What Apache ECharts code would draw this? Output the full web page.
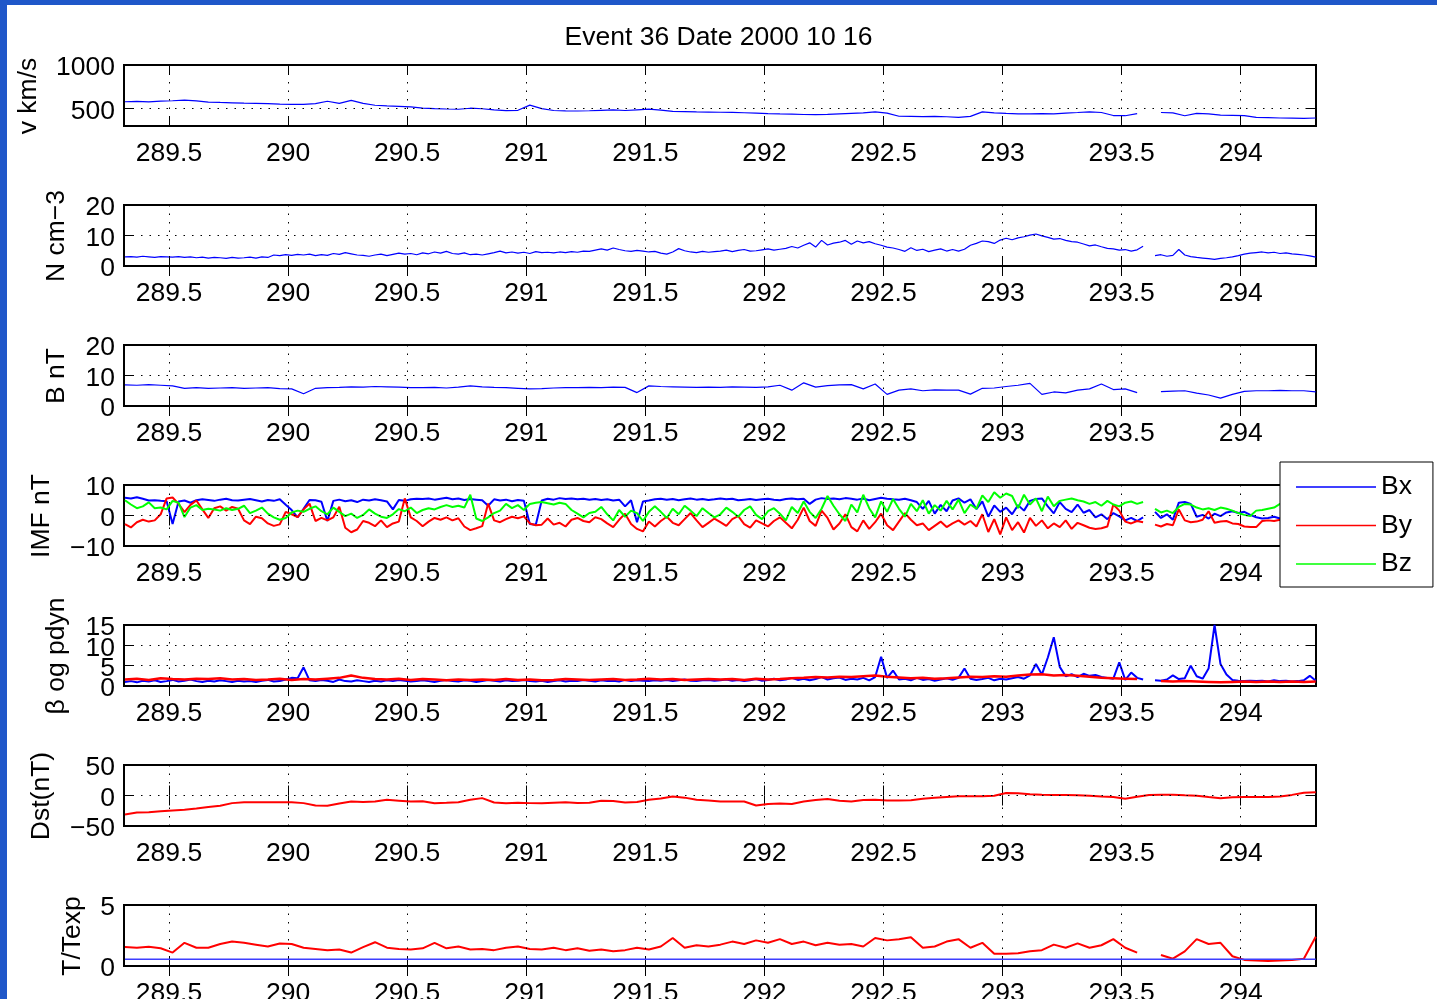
<!DOCTYPE html>
<html>
<head>
<meta charset="utf-8">
<script src="https://cdn.jsdelivr.net/npm/echarts@6/dist/echarts.min.js"></script>
<style>
  html, body { margin: 0; padding: 0; background: #fff; overflow: hidden; }
  #chart { position: absolute; left: 0; top: 0; width: 1437px; height: 999px; }
  .edge-top { position: absolute; left: 0; top: 0; width: 1437px; height: 5px; background: #1f57c9; }
  .edge-left { position: absolute; left: 0; top: 0; width: 7px; height: 999px; background: #1f57c9; }
</style>
</head>
<body>
<div id="chart"></div>
<div class="edge-top"></div>
<div class="edge-left"></div>
<script>
// ---- time axis (day of year 2000) ----
const dayMin = 289.311;
const dayMax = 294.316;
const dayTicks = [289.5, 290, 290.5, 291, 291.5, 292, 292.5, 293, 293.5, 294];

// sampling of the stored series: coarse = 0.05 day, fine = 0.025 day
const coarseStart = 289.315, coarseStep = 0.05;
const fineStart = 289.315, fineStep = 0.025;

// ---- y tick labels per panel ----
const speedTicks = [500, 1000];
const densityTicks = [0, 10, 20];
const fieldTicks = [0, 10, 20];
const imfTicks = [-10, 0, 10];
const betaTicks = [0, 5, 10, 15];
const dstTicks = [-50, 0, 50];
const ratioTicks = [0, 5];

// ---- solar wind speed, km/s (coarse) ----
const speed = [
  578, 582, 576, 585, 590, 596, 588, 575, 570, 566,
  562, 560, 556, 552, 549, 548, 556, 584, 560, 594,
  560, 538, 530, 526, 520, 506, 500, 495, 492, 504,
  498, 485, 476, 480, 540, 500, 478, 474, 472, 475,
  480, 484, 478, 486, 494, 482, 468, 466, 462, 460,
  458, 456, 452, 448, 442, 438, 436, 432, 430, 434,
  440, 445, 450, 462, 448, 412, 410, 408, 410, 406,
  400, 410, 462, 450, 444, 440, 438, 442, 440, 448,
  455, 463, 455, 420, 418, 442, null, 455, 450, 418,
  445, 440, 425, 422, 418, 398, 396, 392, 390, 388, 392
];

// ---- proton density, cm^-3 (fine) ----
const density = [
  3.0, 3.1, 2.9, 3.2, 3.0, 2.8, 3.1, 3.0, 2.9, 3.1,
  2.8, 3.0, 2.7, 2.9, 2.6, 2.8, 2.7, 2.5, 2.8, 2.6,
  2.7, 2.9, 2.6, 3.0, 2.8, 3.6, 3.4, 3.7, 3.5, 3.8,
  3.6, 3.9, 3.4, 3.7, 3.5, 4.1, 3.8, 4.4, 4.0, 3.6,
  3.5, 3.2, 3.6, 3.9, 3.4, 3.8, 4.2, 3.9, 4.1, 3.7,
  4.3, 4.0, 4.6, 4.2, 4.8, 4.1, 3.9, 4.3, 3.7, 3.9,
  3.6, 4.0, 4.4, 4.9, 4.3, 4.6, 4.2, 4.5, 4.1, 4.7,
  4.4, 4.5, 4.3, 4.6, 4.4, 4.7, 4.5, 4.9, 4.8, 5.2,
  5.6, 5.2, 5.9, 5.4, 5.0, 4.8, 5.1, 4.9, 4.6, 4.8,
  4.2, 3.9, 4.6, 5.7, 5.0, 4.6, 4.4, 4.8, 4.5, 4.7,
  4.9, 5.2, 4.7, 5.1, 5.4, 4.9, 5.0, 5.3, 5.6, 5.2,
  5.5, 5.8, 6.4, 5.9, 6.8, 7.6, 6.2, 8.4, 6.9, 7.5,
  7.8, 8.4, 7.1, 8.2, 7.6, 8.0, 7.3, 6.8, 6.2, 5.9,
  5.4, 4.8, 6.0, 5.1, 5.5, 4.7, 5.2, 5.6, 4.9, 5.4,
  4.9, 5.5, 6.8, 7.4, 8.2, 8.0, 7.4, 8.5, 9.1, 8.6,
  9.2, 9.6, 10.1, 10.5, 9.9, 9.4, 8.8, 9.0, 8.4, 8.0,
  7.8, 7.2, 6.6, 6.9, 6.3, 5.8, 5.6, 5.2, 5.4, 4.9,
  5.3, 6.5, null, 3.4, 3.7, 3.2, 3.5, 5.4, 3.6, 3.1,
  2.8, 2.6, 2.4, 2.2, 2.5, 2.7, 3.0, 3.4, 3.9, 4.2,
  4.4, 4.6, 4.3, 4.5, 4.1, 4.3, 4.0, 3.8, 3.6, 3.3, 2.9
];

// ---- field magnitude, nT (coarse) ----
const fieldMag = [
  6.9, 6.8, 7.0, 6.8, 6.6, 5.8, 6.0, 5.8, 5.9, 6.0,
  5.8, 5.9, 6.0, 5.7, 5.6, 4.0, 5.8, 6.0, 6.1, 6.3,
  6.2, 6.4, 6.3, 6.2, 6.0, 6.0, 6.1, 5.9, 6.2, 6.6,
  6.3, 6.1, 6.0, 5.8, 5.6, 5.7, 5.9, 6.0, 6.0, 6.1,
  6.0, 6.2, 6.1, 4.4, 6.6, 6.4, 6.3, 6.2, 6.1, 6.2,
  6.1, 6.3, 6.2, 6.1, 6.3, 6.8, 5.2, 7.6, 6.2, 6.7,
  6.9, 7.0, 5.6, 7.2, 3.8, 5.2, 5.6, 5.0, 5.3, 5.2,
  5.2, 3.9, 5.8, 5.9, 6.4, 6.8, 7.4, 3.8, 4.6, 4.3,
  5.2, 5.6, 7.2, 5.4, 5.6, 4.4, null, 4.7, 4.9, 5.0,
  4.2, 3.6, 2.6, 3.8, 4.8, 5.0, 5.0, 5.1, 5.0, 5.0, 4.6
];

// ---- IMF components, nT (fine) ----
const bx = [
  5.8, 5.6, 6.0, 5.5, 4.9, 5.0, 4.8, 4.7, -2.8, 4.6,
  4.9, 4.2, 5.0, 5.3, 5.1, 4.8, 5.2, 5.5, 5.0, 4.9,
  5.2, 5.4, 5.0, 4.6, 5.1, 4.8, 5.3, 3.5, 1.8, -0.6,
  2.2, 5.1, 5.0, 4.5, -1.8, 4.8, 5.2, 4.7, 5.0, 4.4,
  5.2, 4.9, 5.3, 5.0, 4.6, 2.0, 5.1, 4.8, 5.3, 5.5,
  5.4, 5.6, 5.2, 5.5, 5.8, 5.3, 5.6, 5.1, 5.4, 5.2,
  5.0, 3.2, 5.3, 4.9, 5.2, 4.7, 5.1, 4.8, -2.8, -3.0,
  4.9, 5.5, 5.2, 5.7, 5.4, 5.6, 5.3, 5.5, 5.2, 5.4,
  5.1, 5.3, 4.9, 5.2, 3.0, 5.0, -2.2, 4.6, 4.9, 5.3,
  5.5, 5.2, 5.4, 5.0, 5.3, 5.6, 5.2, 5.4, 5.1, 5.3,
  5.6, 5.3, 5.5, 5.0, 5.2, 5.4, 5.1, 5.3, 5.5, 5.2,
  5.0, 5.4, 5.6, 5.3, 5.5, 3.8, 5.2, 5.7, 5.4, 5.6,
  5.3, 5.7, 5.5, 5.2, 5.6, 5.0, 5.4, 5.8, 5.5, 5.3,
  5.2, 5.5, 5.0, 4.4, 2.2, 4.8, 0.6, 3.5, 1.4, 4.9,
  5.6, 4.2, 5.3, 2.1, 4.6, -0.4, 3.3, 1.2, 2.6, 0.4,
  3.4, 1.6, 4.8, 5.4, 5.6, 3.0, 0.7, 4.4, 2.2, 1.1,
  3.6, 0.9, 1.8, -0.6, 0.4, -1.2, 0.8, -0.3, -1.6, -0.8,
  -1.8, -0.6, null, 1.2, -0.8, 0.4, -1.4, 4.2, 4.4, 3.8,
  -0.4, 0.2, -1.0, 0.6, -0.2, 1.0, 1.4, 0.8, 1.2, 0.2,
  -0.6, -1.0, -0.8, -0.4, -1.0, -0.6, -1.2, -0.8, -1.0, -0.6, -0.9
];
const by = [
  -2.8, -3.9, -2.2, -1.4, -2.0, -1.6, 0.4, 5.6, 5.9, 3.8,
  1.1, 3.5, 4.9, 2.0, -0.8, 2.4, 3.0, 1.6, 2.8, 2.2,
  -1.6, -2.8, -0.4, -0.9, -2.6, -3.4, -2.9, 1.2, 0.4, -0.5,
  2.0, 3.9, -1.8, -0.8, -1.6, -0.6, 2.9, -4.0, -5.5, -4.6,
  -1.8, -2.4, -3.5, -1.6, -3.8, -2.6, -2.0, 5.6, -0.6, -1.8,
  -3.5, -2.0, -0.8, -1.4, -0.6, -1.6, -0.9, -3.6, -4.8, -4.2,
  -3.5, 3.9, -1.6, -2.2, -1.2, -0.4, -0.9, -0.3, -2.6, -3.2,
  -3.0, -1.0, -3.0, -2.4, -3.6, -1.4, -0.8, -1.8, -2.2, -0.6,
  -1.2, -2.6, -3.8, -1.4, 0.6, -2.8, -4.4, -5.2, -2.0, -3.6,
  -1.8, -0.4, -2.4, -3.2, -1.2, 0.8, -1.6, -3.8, -2.4, -1.0,
  -2.2, -3.4, -1.2, -0.2, -2.8, -4.0, -1.6, -2.6, -3.6, -1.8,
  -0.6, -2.4, -4.2, -1.4, 2.6, -1.8, -3.4, 1.6, -0.8, -4.6,
  -2.6, 0.4, -3.8, -5.2, -1.6, -4.4, -2.2, 0.6, -3.2, -4.8,
  -2.0, 0.8, -1.4, -3.2, -2.6, -4.8, -3.4, -2.0, -3.8, -2.6,
  -1.6, -3.0, -1.8, -3.6, 0.4, -5.4, -1.2, -6.2, -0.6, -4.8,
  -2.2, -5.6, -0.8, -3.4, -1.6, -4.2, -2.6, -3.8, -1.6, -4.4,
  -2.4, -3.2, -4.0, -4.4, -4.2, -3.6, 3.6, 1.6, -2.0, -2.6,
  -1.8, -2.2, null, -3.0, -3.6, -2.8, -3.2, 2.0, -1.6, -2.2,
  -2.0, -1.4, 1.4, -2.4, -2.0, -1.8, -2.6, -2.8, -3.6, -3.8,
  -3.8, -1.8, -1.6, -1.8, -1.4, -1.7, -2.0, -1.6, -1.8, -2.2, -2.0
];
const bz = [
  5.0, 3.6, 2.4, 3.0, 4.3, 2.4, 2.6, 2.0, 4.8, 4.2,
  -0.5, 2.6, 3.4, 1.8, 2.2, 2.0, 1.6, 2.4, 1.8, 2.2,
  3.2, 0.8, 1.6, 2.6, 0.6, -0.6, -1.4, -0.8, 1.0, 1.6,
  1.2, 2.2, 3.0, 1.4, 0.4, 2.6, 1.2, -0.2, 0.6, -0.8,
  0.2, 2.0, 0.6, -0.4, -0.8, 0.4, 2.1, 1.4, 2.6, 0.8,
  1.8, 2.4, 2.0, 2.8, 3.4, 2.8, 3.2, 2.6, 6.8, -1.0,
  -1.8, -0.6, 0.8, 1.6, 3.8, 2.4, 3.4, 1.8, 3.8, 4.2,
  4.4, 4.0, 3.6, 4.2, 3.8, 1.8, 0.6, -0.6, 0.8, 1.2,
  2.8, 0.4, -1.6, 1.8, -0.4, 1.6, 0.8, -1.8, 1.2, 3.0,
  1.2, -0.8, 2.2, 0.4, 3.2, 1.6, -0.2, 2.4, 0.8, -0.6,
  0.4, 2.6, 1.2, -0.4, 1.8, 3.0, 0.2, -1.2, 1.4, 2.4,
  0.6, -1.6, 2.8, 0.8, 4.6, 1.2, -0.8, 2.2, 6.4, 3.2,
  0.4, -1.8, 3.6, 1.0, 6.8, 2.4, -0.6, 4.6, 1.2, 5.4,
  2.2, -0.4, 3.8, 1.4, 5.0, 0.6, 3.4, 1.6, 4.8, 2.0,
  5.2, 0.8, 3.6, 2.2, 6.6, 4.4, 7.6, 5.8, 7.2, 6.4,
  2.4, 6.8, 3.6, 5.6, 1.4, 6.2, 3.0, 4.8, 5.2, 5.6,
  5.0, 4.6, 3.8, 4.4, 3.2, 4.8, 3.6, 3.0, 4.2, 4.6,
  3.8, 4.4, null, 2.2, 1.0, 1.6, 0.8, 2.8, 3.8, 3.6,
  2.6, 2.0, 2.4, 1.8, 2.6, 2.2, 1.6, 0.8, 0.2, -0.2,
  1.6, 1.8, 2.2, 2.6, 3.8, 3.4, 3.0, 3.2, 2.8, 3.0, 2.6
];

// ---- plasma beta (fine) and dynamic pressure (coarse) ----
const beta = [
  1.0, 1.2, 0.9, 1.3, 1.1, 1.4, 1.0, 1.2, 1.5, 1.1,
  1.3, 1.6, 1.2, 1.0, 1.3, 1.1, 1.4, 1.2, 1.0, 1.3,
  1.1, 1.2, 1.0, 1.3, 1.5, 1.1, 1.2, 1.6, 2.0, 1.9,
  4.6, 1.4, 1.2, 1.5, 1.3, 1.0, 1.6, 1.2, 1.1, 1.4,
  1.2, 1.0, 1.3, 1.1, 1.4, 1.2, 1.5, 1.3, 1.1, 1.2,
  1.4, 1.2, 1.0, 1.3, 1.5, 1.2, 1.1, 1.4, 1.3, 1.0,
  1.2, 1.5, 1.3, 1.1, 1.4, 1.2, 1.3, 1.5, 1.2, 1.1,
  1.3, 1.0, 1.2, 1.4, 1.1, 1.3, 1.2, 1.5, 1.3, 1.1,
  1.4, 1.2, 1.3, 1.1, 1.5, 1.2, 1.4, 1.3, 1.2, 1.4,
  1.3, 1.5, 1.2, 1.4, 1.6, 1.3, 1.2, 1.4, 1.5, 1.3,
  1.4, 1.6, 1.3, 1.5, 1.2, 1.4, 1.7, 1.3, 1.5, 1.8,
  1.4, 1.6, 2.0, 1.5, 1.8, 1.4, 1.7, 2.2, 1.6, 1.9,
  2.1, 1.5, 1.8, 1.6, 2.0, 1.4, 2.2, 7.2, 2.0, 3.8,
  1.6, 1.8, 1.4, 2.0, 1.5, 1.7, 1.3, 1.6, 1.9, 1.5,
  2.0, 4.3, 1.8, 1.5, 1.7, 2.0, 1.4, 1.8, 1.6, 1.9,
  2.2, 1.8, 2.6, 5.4, 2.8, 7.0, 12.0, 4.7, 2.4, 2.9,
  2.2, 3.0, 2.5, 2.7, 2.2, 2.0, 1.8, 5.8, 1.5, 3.3,
  2.0, 1.6, null, 1.4, 1.3, 1.6, 2.6, 1.7, 1.9, 5.0,
  2.4, 1.8, 4.3, 15.0, 5.4, 2.8, 1.5, 1.3, 1.2, 1.3,
  1.2, 1.3, 1.1, 1.4, 1.2, 1.3, 1.1, 1.2, 1.4, 2.5, 1.3
];
const pdyn = [
  1.6, 1.8, 1.5, 1.9, 1.7, 1.6, 1.8, 1.7, 1.9, 1.6,
  1.7, 1.5, 1.6, 1.8, 1.5, 1.7, 1.6, 1.8, 2.0, 2.6,
  2.0, 1.7, 1.6, 1.8, 1.5, 1.7, 1.6, 1.4, 1.6, 1.5,
  1.6, 1.5, 1.7, 1.5, 1.6, 1.4, 1.5, 1.7, 1.6, 1.5,
  1.6, 1.7, 1.5, 1.6, 1.8, 1.6, 1.7, 1.5, 1.6, 1.7,
  1.6, 1.7, 1.5, 1.8, 1.6, 1.7, 1.9, 2.0, 2.2, 2.1,
  2.3, 2.2, 2.4, 2.6, 2.3, 2.1, 1.9, 2.0, 1.8, 1.9,
  2.1, 2.3, 2.2, 2.4, 2.3, 2.6, 2.8, 2.9, 2.6, 2.7,
  2.5, 2.3, 2.0, 1.9, 1.8, 1.7, null, 1.2, 1.1, 1.2,
  1.1, 1.0, 0.9, 1.0, 1.1, 1.0, 1.1, 1.0, 1.1, 1.0, 1.1
];

// ---- Dst index, nT (coarse) ----
const dst = [
  -31, -28, -27.6, -26, -24.5, -23.5, -21.5, -19, -16.7, -12.5,
  -11.2, -11, -11, -11, -11, -12.5, -16.5, -16.7, -13, -9.9,
  -10.8, -10, -7.1, -8.5, -9.9, -9.3, -12.8, -12, -11, -7,
  -4.3, -11.5, -12.8, -11.7, -12.5, -12.8, -11.8, -11, -12.2, -12,
  -8.5, -9, -11.5, -10.5, -6.8, -5, -1.5, -3.5, -6.8, -8,
  -9.9, -9.9, -9.9, -16.5, -14, -13, -13.9, -10, -7.5, -5.8,
  -8.5, -9.9, -7.5, -7.1, -8.2, -8, -7.7, -5.5, -3.8, -2.3,
  -1.3, -1.3, -1.3, -0.5, 4.2, 3.5, 1.9, 1.2, 0.8, 0.8,
  0.6, -0.5, -1.8, -2.5, -5.2, -2.0, 0.8, 1.2, 1.4, 0.5,
  -0.3, -2.5, -4.5, -3, -2.5, -2.5, -2.5, -1.5, 1, 4.5, 5.5
];

// ---- temperature ratio T/Texp (coarse) and its reference level ----
const tRatio = [
  1.55, 1.5, 1.58, 1.45, 1.1, 1.9, 1.5, 1.5, 1.8, 2.0,
  1.9, 1.75, 1.6, 1.85, 1.8, 1.5, 1.4, 1.3, 1.35, 1.1,
  1.55, 1.95, 1.5, 1.4, 1.35, 1.45, 1.9, 1.45, 1.6, 1.35,
  1.4, 1.3, 1.5, 1.6, 1.4, 1.35, 1.5, 1.3, 1.45, 1.25,
  1.35, 1.2, 1.3, 1.5, 1.35, 1.6, 2.3, 1.5, 1.7, 1.6,
  1.75, 2.0, 1.8, 2.1, 1.9, 2.2, 1.8, 2.0, 1.7, 1.9,
  1.75, 1.8, 1.6, 2.3, 2.1, 2.2, 2.35, 1.5, 1.6, 2.0,
  2.2, 1.5, 1.9, 1.0, 1.0, 1.05, 1.2, 1.3, 1.75, 1.5,
  1.85, 1.5, 1.7, 2.2, 1.5, 1.1, null, 0.9, 0.6, 1.2,
  2.2, 1.8, 1.9, 0.8, 0.5, 0.45, 0.42, 0.45, 0.5, 0.6, 2.4
];
const tRatioRefDays = [289.315, 294.315];
const tRatioRef = [0.55, 0.55];

// ---------------------------------------------------------------------------
const FONT = '"Liberation Sans", Arial, Helvetica, sans-serif';
const FS = 26.5;
const BLUE = '#0000ff', RED = '#ff0000', GREEN = '#00ff00';

function onGrid(start, step, vals) {
  return vals.map((v, i) => [+(start + step * i).toFixed(4), v == null ? '-' : v]);
}
function minusFmt(v) { return v < 0 ? '\u2212' + Math.abs(v) : String(v); }

const panels = [
  { label: 'v km/s',         min: 300, max: 1000, ticks: speedTicks,   labelX: 29 },
  { label: 'N cm\u22123',    min: 0,   max: 20,   ticks: densityTicks, labelX: 57 },
  { label: 'B nT',           min: 0,   max: 20,   ticks: fieldTicks,   labelX: 57 },
  { label: 'IMF nT',         min: -10, max: 10,   ticks: imfTicks,     labelX: 42 },
  { label: '\u03b2 og pdyn', min: 0,   max: 15,   ticks: betaTicks,    labelX: 57 },
  { label: 'Dst(nT)',        min: -50, max: 50,   ticks: dstTicks,     labelX: 42 },
  { label: 'T/Texp',         min: 0,   max: 5,    ticks: ratioTicks,   labelX: 73 }
];

const plotLeft = 124, plotWidth = 1192, plotTop = 65, plotPitch = 140, plotHeight = 61;
const yLabelMargin = 9;

const grids = [], xAxes = [], yAxes = [], graphics = [];
const tickStyle = { color: '#000', width: 1 };
const labelStyle = { fontSize: FS, fontFamily: FONT, color: '#000' };

panels.forEach((p, k) => {
  const top = plotTop + plotPitch * k;
  // fixed plot boxes: the bottom row's labels may run to the page edge
  grids.push({ left: plotLeft, width: plotWidth, top: top, height: plotHeight,
    outerBoundsMode: 'none', containLabel: false,
    show: true, borderColor: '#000', borderWidth: 2, backgroundColor: '#fff' });

  const xBase = { type: 'value', gridIndex: k, min: dayMin, max: dayMax,
    axisLine: { show: false }, splitLine: { show: false } };
  xAxes.push(Object.assign({}, xBase, { position: 'bottom',
    axisTick: { show: true, inside: true, length: 10, customValues: dayTicks, lineStyle: tickStyle },
    axisLabel: Object.assign({ show: true, customValues: dayTicks, margin: 14,
      hideOverlap: false, formatter: v => String(v) }, labelStyle) }));
  xAxes.push(Object.assign({}, xBase, { position: 'top',
    axisTick: { show: true, inside: true, length: 10, customValues: dayTicks, lineStyle: tickStyle },
    axisLabel: { show: false } }));

  // y tick labels are placed after layout (see below) at the axis' own pixel
  // positions, so none of the closely packed ones is dropped or nudged
  const yBase = { type: 'value', gridIndex: k, min: p.min, max: p.max,
    axisLine: { show: false }, splitLine: { show: false }, axisLabel: { show: false } };
  yAxes.push(Object.assign({}, yBase, { position: 'left',
    axisTick: { show: true, inside: true, length: 10, customValues: p.ticks, lineStyle: tickStyle } }));
  yAxes.push(Object.assign({}, yBase, { position: 'right',
    axisTick: { show: true, inside: true, length: 10, customValues: p.ticks, lineStyle: tickStyle } }));

  graphics.push({ type: 'text', x: p.labelX, y: top + plotHeight / 2 + 0.5, rotation: Math.PI / 2,
    silent: true,
    style: { text: p.label, fontSize: FS, fontFamily: FONT, fill: '#000',
      align: 'center', verticalAlign: 'middle', textAlign: 'center', textVerticalAlign: 'middle' } });
});

// dotted grid drawn as mark lines on a panel's first series
function gridLines(k) {
  const p = panels[k];
  const inner = p.ticks.filter(v => v > p.min && v < p.max);
  return {
    silent: true, symbol: ['none', 'none'], label: { show: false }, animation: false,
    emphasis: { disabled: true },
    lineStyle: { color: '#000', width: 1, type: [1.5, 7] },
    data: dayTicks.map(v => ({ xAxis: v })).concat(inner.map(v => ({ yAxis: v })))
  };
}

function line(name, k, data, color, width, withGrid) {
  const s = { type: 'line', name: name, xAxisIndex: 2 * k, yAxisIndex: 2 * k, data: data,
    showSymbol: false, symbol: 'none', connectNulls: false, silent: true, animation: false,
    lineStyle: { color: color, width: width }, itemStyle: { color: color },
    emphasis: { disabled: true } };
  if (withGrid) s.markLine = gridLines(k);
  return s;
}

const series = [
  line('v', 0, onGrid(coarseStart, coarseStep, speed), BLUE, 1.2, true),
  line('N', 1, onGrid(fineStart, fineStep, density), BLUE, 1.2, true),
  line('B', 2, onGrid(coarseStart, coarseStep, fieldMag), BLUE, 1.2, true),
  line('Bx', 3, onGrid(fineStart, fineStep, bx), BLUE, 2, true),
  line('By', 3, onGrid(fineStart, fineStep, by), RED, 2, false),
  line('Bz', 3, onGrid(fineStart, fineStep, bz), GREEN, 2, false),
  line('beta', 4, onGrid(fineStart, fineStep, beta), BLUE, 2, true),
  line('pdyn', 4, onGrid(coarseStart, coarseStep, pdyn), RED, 2.5, false),
  line('Dst', 5, onGrid(coarseStart, coarseStep, dst), RED, 2, true),
  line('T/Texp', 6, onGrid(coarseStart, coarseStep, tRatio), RED, 2, true),
  line('T ref', 6, tRatioRefDays.map((d, i) => [d, tRatioRef[i]]), '#3d3dff', 1.5, false)
];

const chart = echarts.init(document.getElementById('chart'), null, { renderer: 'canvas' });
chart.setOption({
  animation: false,
  backgroundColor: '#fff',
  title: { text: 'Event 36 Date 2000 10 16', left: 'center', top: 24, padding: 0,
    textStyle: { fontSize: FS, fontWeight: 'normal', color: '#000', fontFamily: FONT } },
  legend: { data: ['Bx', 'By', 'Bz'], orient: 'vertical', left: 1280, top: 462,
    padding: [11, 21, 9, 16], itemGap: 10.5, itemWidth: 80, itemHeight: 1.5, icon: 'rect',
    backgroundColor: '#fff', borderColor: '#000', borderWidth: 1, selectedMode: false, z: 10,
    textStyle: { fontSize: FS, fontFamily: FONT, color: '#000', lineHeight: 28 } },
  grid: grids,
  xAxis: xAxes,
  yAxis: yAxes,
  graphic: graphics,
  series: series
});

// y tick labels, positioned through each panel's y scale
const yTickLabels = [];
panels.forEach((p, k) => {
  p.ticks.forEach(v => {
    yTickLabels.push({
      type: 'text', silent: true,
      x: plotLeft - yLabelMargin,
      y: chart.convertToPixel({ yAxisIndex: 2 * k }, v) + 3,
      style: { text: minusFmt(v), fontSize: FS, fontFamily: FONT, fill: '#000',
        align: 'right', verticalAlign: 'middle', textAlign: 'right', textVerticalAlign: 'middle' }
    });
  });
});
chart.setOption({ graphic: graphics.concat(yTickLabels) });
</script>
</body>
</html>
